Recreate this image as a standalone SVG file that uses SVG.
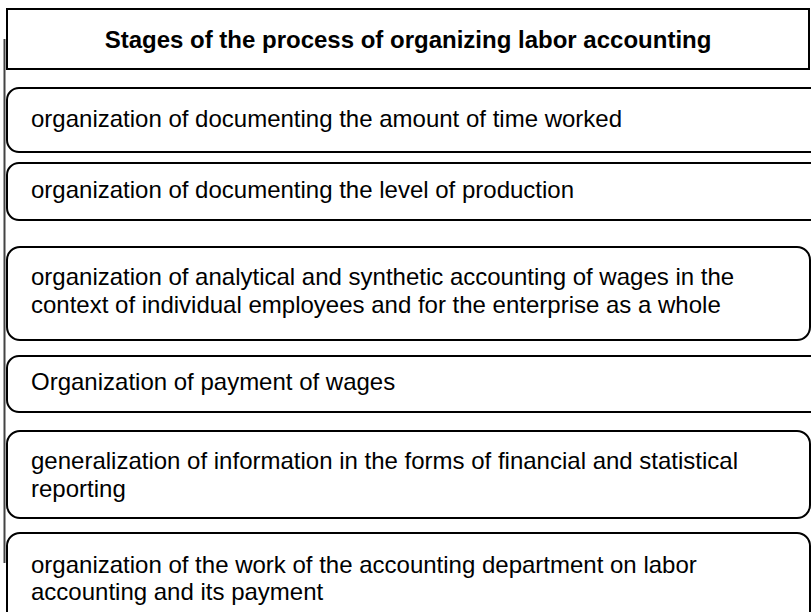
<svg xmlns="http://www.w3.org/2000/svg" width="811" height="612" viewBox="0 0 811 612">
<style>
.box{fill:#fff;stroke:#000;stroke-width:2}
.t{font-family:"Liberation Sans",Arial,sans-serif;font-size:24px;fill:#000}
.h{font-family:"Liberation Sans",Arial,sans-serif;font-size:24px;font-weight:bold;fill:#000}
</style>
<rect width="811" height="612" fill="#fff"/>
<g id="connectors">
<line x1="4.5" y1="39" x2="4.5" y2="563" stroke="#444" stroke-width="2"/>
</g>
<g id="header">
<rect class="box" x="7" y="9" width="802" height="60"/>
<text class="h" x="408" y="48" text-anchor="middle">Stages of the process of organizing labor accounting</text>
</g>
<g id="stage1">
<rect class="box" x="7" y="88" width="830" height="64" rx="12"/>
<text class="t" x="31" y="127">organization of documenting the amount of time worked</text>
</g>
<g id="stage2">
<rect class="box" x="7" y="163" width="830" height="57" rx="12"/>
<text class="t" x="31" y="198">organization of documenting the level of production</text>
</g>
<g id="stage3">
<rect class="box" x="7" y="247" width="803" height="93" rx="13"/>
<text class="t" x="31" y="285">organization of analytical and synthetic accounting of wages in the</text>
<text class="t" x="31" y="313">context of individual employees and for the enterprise as a whole</text>
</g>
<g id="stage4">
<rect class="box" x="7" y="356" width="830" height="56" rx="12"/>
<text class="t" x="31" y="390">Organization of payment of wages</text>
</g>
<g id="stage5">
<rect class="box" x="7" y="431" width="803" height="87" rx="13"/>
<text class="t" x="31" y="469">generalization of information in the forms of financial and statistical</text>
<text class="t" x="31" y="497">reporting</text>
</g>
<g id="stage6">
<rect class="box" x="7" y="533" width="803" height="100" rx="13"/>
<text class="t" x="31" y="573">organization of the work of the accounting department on labor</text>
<text class="t" x="31" y="600">accounting and its payment</text>
</g>
</svg>
